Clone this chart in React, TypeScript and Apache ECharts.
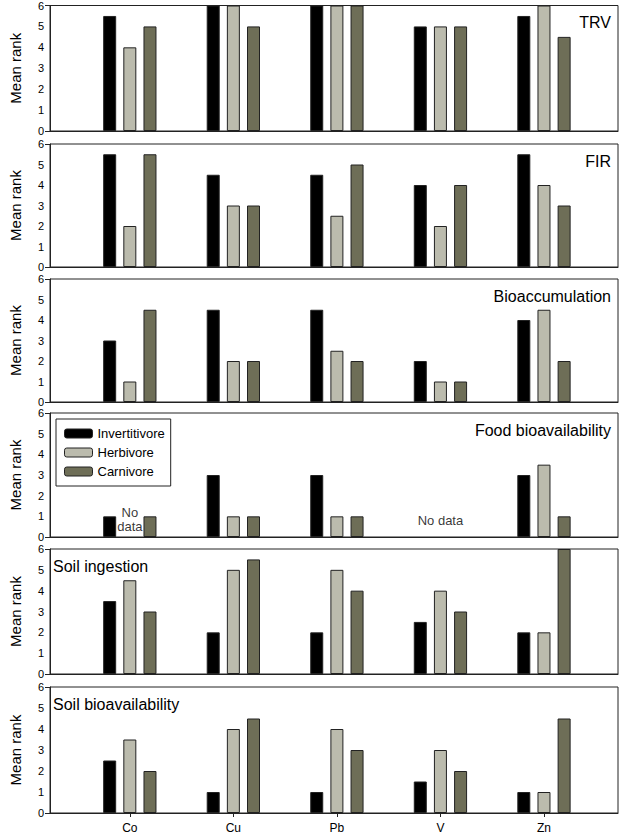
import React, { useEffect, useRef } from "react";
import * as echarts from "echarts";

const categories = ["Co", "Cu", "Pb", "V", "Zn"];
const groups = ["Invertitivore", "Herbivore", "Carnivore"];
const panelTitles = ["TRV", "FIR", "Bioaccumulation", "Food bioavailability", "Soil ingestion", "Soil bioavailability"];

// values per panel: [invertivore, herbivore, carnivore] each over categories
const trvInv = [5.5, 6, 6, 5, 5.5];
const trvHerb = [4, 6, 6, 5, 6];
const trvCarn = [5, 5, 6, 5, 4.5];

const firInv = [5.5, 4.5, 4.5, 4, 5.5];
const firHerb = [2, 3, 2.5, 2, 4];
const firCarn = [5.5, 3, 5, 4, 3];

const bioInv = [3, 4.5, 4.5, 2, 4];
const bioHerb = [1, 2, 2.5, 1, 4.5];
const bioCarn = [4.5, 2, 2, 1, 2];

const foodInv = [1, 3, 3, null, 3];
const foodHerb = [null, 1, 1, null, 3.5];
const foodCarn = [1, 1, 1, null, 1];

const soilInv = [3.5, 2, 2, 2.5, 2];
const soilHerb = [4.5, 5, 5, 4, 2];
const soilCarn = [3, 5.5, 4, 3, 6];

const soilBioInv = [2.5, 1, 1, 1.5, 1];
const soilBioHerb = [3.5, 4, 4, 3, 1];
const soilBioCarn = [2, 4.5, 3, 2, 4.5];

const panelData = [
  [trvInv, trvHerb, trvCarn],
  [firInv, firHerb, firCarn],
  [bioInv, bioHerb, bioCarn],
  [foodInv, foodHerb, foodCarn],
  [soilInv, soilHerb, soilCarn],
  [soilBioInv, soilBioHerb, soilBioCarn],
];

// "No data" notes in the food bioavailability panel: [category, label, y position]
const noDataNotes: [string, string, number][] = [
  ["Co", "No\ndata", 0.85],
  ["V", "No data", 0.8],
];

const colors = ["#000000", "#bbbbad", "#6e6e57"];

const gridTops = [5, 144, 279, 413, 549, 687];
const gridHeights = [126, 123, 123, 124, 125, 126];
const titleRight = [true, true, true, true, false, false];

export default function App() {
  const ref = useRef<HTMLDivElement>(null);
  useEffect(() => {
    document.body.style.margin = "0";
    const chart = echarts.init(ref.current!, null, { renderer: "svg" });
    const font = "'Liberation Sans', Arial, sans-serif";
    const grids: any[] = [];
    const xAxes: any[] = [];
    const yAxes: any[] = [];
    const series: any[] = [];
    const catVals = categories.map((_, i) => i + 1);
    for (let p = 0; p < 6; p++) {
      const last = p === 5;
      grids.push({
        left: 42,
        right: 5,
        top: gridTops[p],
        height: gridHeights[p],
        show: true,
        borderColor: "#222",
        borderWidth: 1,
        backgroundColor: "#fff",
      });
      xAxes.push({
        type: "value",
        gridIndex: p,
        min: 0.229,
        max: 5.715,
        axisLine: { show: true, onZero: false, lineStyle: { color: "#222", width: 1 } },
        axisTick: { show: last, customValues: catVals, length: 4, lineStyle: { color: "#222" } },
        axisLabel: {
          show: last,
          customValues: catVals,
          formatter: (v: number) => categories[Math.round(v) - 1] || "",
          color: "#000",
          fontSize: 12,
          fontFamily: font,
          margin: 9,
        },
        splitLine: { show: false },
      });
      yAxes.push({
        type: "value",
        gridIndex: p,
        min: 0,
        max: 6,
        interval: 1,
        name: "Mean rank",
        nameLocation: "middle",
        nameGap: 27,
        nameTextStyle: { fontSize: 15, fontFamily: font, color: "#000" },
        axisLine: { show: true, lineStyle: { color: "#222" } },
        axisTick: { show: true, customValues: [0, 6], length: 5, lineStyle: { color: "#222" } },
        axisLabel: { color: "#000", fontSize: 11, fontFamily: font, margin: 6 },
        splitLine: { show: false },
      });
      for (let g = 0; g < 3; g++) {
        series.push({
          type: "bar",
          name: groups[g],
          xAxisIndex: p,
          yAxisIndex: p,
          barWidth: 13,
          barGap: "55%",
          itemStyle: { color: colors[g], borderColor: "#222", borderWidth: 1 },
          data: panelData[p][g].map((v, i) => [i + 1, v]),
        });
      }
    }
    series.push({
      type: "scatter",
      name: "notes",
      xAxisIndex: 3,
      yAxisIndex: 3,
      symbolSize: 0,
      label: {
        show: true,
        position: "inside",
        formatter: (pr: any) => pr.data[2],
        color: "#000",
        fontSize: 13,
        fontFamily: font,
        lineHeight: 14,
        align: "center",
      },
      data: noDataNotes.map(([c, t, y]) => [categories.indexOf(c) + 1, y, t]),
    });
    const graphics: any[] = panelTitles.map((t, p) => ({
      type: "text",
      ...(titleRight[p] ? { right: 12 } : { left: 53 }),
      top: gridTops[p] + 9,
      style: { text: t, fontSize: 16, fontFamily: font, fill: "#000" },
    }));
    chart.setOption({
      animation: false,
      backgroundColor: "#fff",
      grid: grids,
      xAxis: xAxes,
      yAxis: yAxes,
      series,
      graphic: graphics,
      legend: {
        data: groups,
        orient: "vertical",
        left: 56,
        top: 419,
        itemWidth: 28,
        itemHeight: 9,
        itemGap: 6,
        padding: [8, 6, 8, 8],
        borderColor: "#222",
        borderWidth: 1,
        backgroundColor: "#fff",
        textStyle: { fontSize: 13, fontFamily: font, color: "#000", padding: [0, 0, 0, 0] },
        itemStyle: { borderColor: "#222", borderWidth: 1 },
      },
    });
    return () => chart.dispose();
  }, []);
  return <div ref={ref} style={{ width: 623, height: 834 }} />;
}
